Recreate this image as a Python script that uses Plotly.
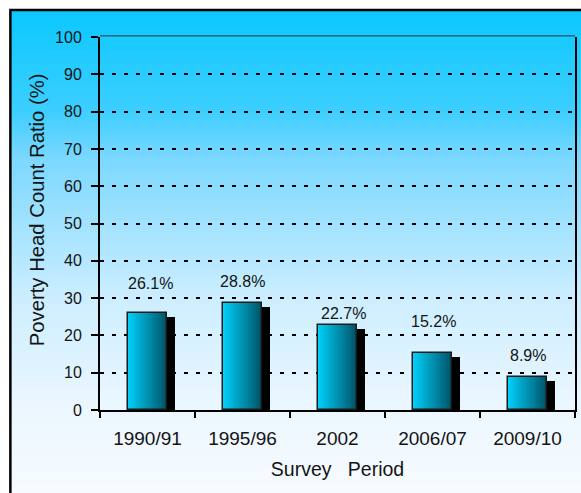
import plotly.graph_objects as go
import numpy as np

# ---- data ----
categories = ["1990/91", "1995/96", "2002", "2006/07", "2009/10"]
poverty_ratio = [26.1, 28.8, 22.7, 15.2, 8.9]
value_labels = ["26.1%", "28.8%", "22.7%", "15.2%", "8.9%"]
y_ticks = list(range(0, 101, 10))

# ---- layout geometry (pixels) ----
W, H = 581, 493
L, R, T, B = 100, 4, 37, 83
PW, PH = W - L - R, H - T - B

def px_x(px):
    return (px - L) / PW

def px_y(py):
    return (H - B - py) / PH

# label placement (style/position, not data)
label_y = [34.0, 34.4, 25.9, 23.6, 14.5]
label_dx = [3, 0, 6, 1, 0]

FONT = "Liberation Sans, Arial, sans-serif"
TXT = "#141414"

fig = go.Figure()

bar_w = 0.415
bar_off = -bar_w / 2
cat_px = PW / len(categories)
sh_dx = 8 / cat_px          # shadow offset, category units
sh_dy = 4 / (PH / 100)      # shadow offset, value units

# shadow
fig.add_trace(go.Bar(
    x=categories, y=[v - sh_dy for v in poverty_ratio],
    offset=bar_off + sh_dx, width=bar_w,
    marker=dict(color="black", line=dict(width=0)),
    hoverinfo="skip", showlegend=False))

# gradient bar slices
c_left = np.array([0, 212, 255])
c_right = np.array([0, 82, 102])
n = 26
sw = bar_w / n
for i in range(n):
    t = (i + 0.5) / n
    c = (1 - t) * c_left + t * c_right
    fig.add_trace(go.Bar(
        x=categories, y=poverty_ratio,
        offset=bar_off + i * sw, width=sw * 1.08,
        marker=dict(color=f"rgb({int(c[0])},{int(c[1])},{int(c[2])})", line=dict(width=0)),
        hoverinfo="skip", showlegend=False))

# outline
fig.add_trace(go.Bar(
    x=categories, y=poverty_ratio,
    offset=bar_off, width=bar_w,
    marker=dict(color="rgba(0,0,0,0)", line=dict(color="#1a1a1a", width=1.5)),
    showlegend=False))

# value labels (x given as category index)
for i, lab in enumerate(value_labels):
    fig.add_annotation(x=i, y=label_y[i], text=lab, showarrow=False,
                       xshift=label_dx[i], yanchor="middle",
                       font=dict(family=FONT, size=16, color=TXT))

# y-axis title
fig.add_annotation(xref="paper", yref="paper", x=px_x(37), y=px_y(210),
                   text="Poverty Head Count Ratio (%)", textangle=-90, showarrow=False,
                   xanchor="center", yanchor="middle",
                   font=dict(family=FONT, size=20.3, color=TXT))

# background gradient bands
stops = [(10, (10, 200, 255)), (110, (60, 206, 255)), (160, (125, 216, 255)),
         (300, (205, 238, 255)), (410, (236, 247, 255)), (493, (247, 251, 255))]

def grad(py):
    for (a, ca), (b, cb) in zip(stops[:-1], stops[1:]):
        if a <= py <= b:
            t = (py - a) / (b - a)
            return tuple(int(round(ca[k] + t * (cb[k] - ca[k]))) for k in range(3))
    return stops[-1][1]

shapes = []
step = 3
for py in range(10, 496, step):
    c = grad(py + step / 2)
    shapes.append(dict(type="rect", xref="paper", yref="paper",
                       x0=px_x(10), x1=px_x(600), y0=px_y(py), y1=px_y(py + step + 0.6),
                       fillcolor=f"rgb({c[0]},{c[1]},{c[2]})", line=dict(width=0), layer="below"))
# outer border
shapes.append(dict(type="rect", xref="paper", yref="paper",
                   x0=px_x(10), x1=px_x(620), y0=px_y(10), y1=px_y(520),
                   line=dict(color="black", width=2.5), fillcolor="rgba(0,0,0,0)", layer="below"))
# top edge of plot
shapes.append(dict(type="line", xref="paper", yref="paper", x0=0, x1=1, y0=1.003, y1=1.003,
                   line=dict(color="#333", width=1), layer="above"))

fig.update_layout(
    width=W, height=H,
    margin=dict(l=L, r=R, t=T, b=B, pad=0),
    paper_bgcolor="white", plot_bgcolor="rgba(0,0,0,0)",
    barmode="overlay", bargap=0,
    shapes=shapes,
    font=dict(family=FONT, color=TXT),
    xaxis=dict(
        type="category", range=[-0.5, 4.5], tickson="boundaries",
        ticks="outside", ticklen=6, tickwidth=1.5, tickcolor="black",
        showline=True, linecolor="black", linewidth=2,
        showgrid=False, tickfont=dict(family=FONT, size=19, color=TXT),
        ticklabelstandoff=10,
        title=dict(text="Survey   Period", font=dict(family=FONT, size=19.5, color=TXT), standoff=15),
    ),
    yaxis=dict(
        range=[0, 100], tickvals=y_ticks, ticks="outside", ticklen=7, tickwidth=1.5, tickcolor="black",
        showline=True, linecolor="black", linewidth=2, mirror=True,
        showgrid=True, gridcolor="black", gridwidth=2, griddash="4px,8px",
        zeroline=False, tickfont=dict(family=FONT, size=16, color=TXT),
        ticklabelstandoff=6,
    ),
)

fig.write_html("out.html")
